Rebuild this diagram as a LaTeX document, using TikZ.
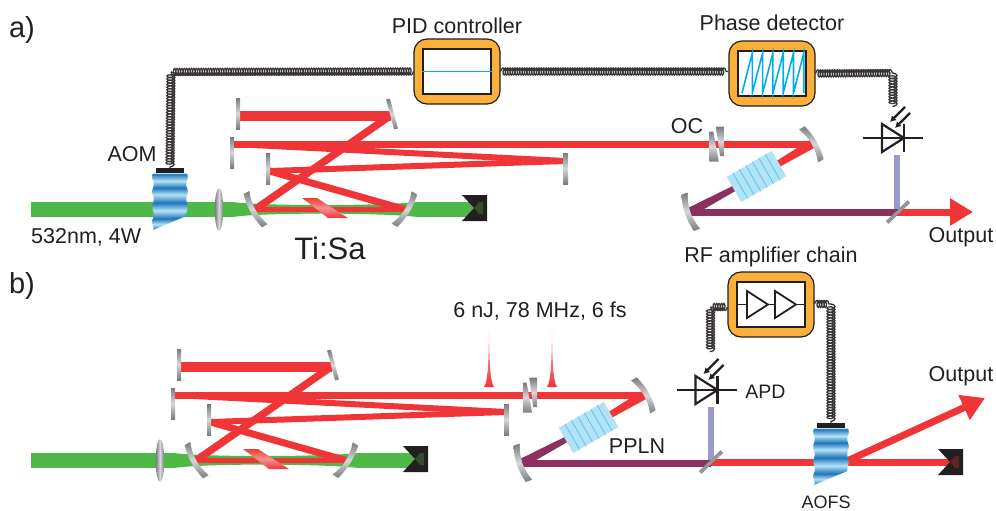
\documentclass[tikz,border=0pt]{standalone}
\usepackage{fontspec}
\setmainfont{Liberation Sans}
\usetikzlibrary{arrows.meta,positioning,calc,shapes.geometric,decorations.pathmorphing}

\definecolor{beamred}{HTML}{EF3538}
\definecolor{beamgreen}{HTML}{50B848}
\definecolor{beampurple}{HTML}{8C3060}
\definecolor{probeblue}{HTML}{9A9ACA}
\definecolor{boxorange}{HTML}{FBB03B}
\definecolor{inkblack}{HTML}{231F20}
\definecolor{mirrordark}{HTML}{7A7B7E}
\definecolor{mirrorlight}{HTML}{D6D7D9}
\definecolor{xtalblue}{HTML}{B2E2F4}
\definecolor{lineblue}{HTML}{00AEEF}
\definecolor{aomdark}{HTML}{1C75BC}
\definecolor{aomlight}{HTML}{B5E2F3}

\pgfdeclareverticalshading{aomstripes}{100bp}{color(0bp)=(aomdark); color(25bp)=(aomdark); color(30bp)=(aomlight); color(35bp)=(aomdark); color(42bp)=(aomlight); color(49bp)=(aomdark); color(56bp)=(aomlight); color(62bp)=(aomdark); color(68bp)=(aomlight); color(74bp)=(aomdark); color(75bp)=(aomlight); color(100bp)=(aomlight)}

\tikzset{
  curvedmirror/.pic={
    \shade[mirrorshade] (4,-19) .. controls (-1,-6) and (-1,6) .. (4,19) -- (-2.5,19) .. controls (-6,6) and (-6,-6) .. (-2.5,-19) -- cycle;
  },
  beamdump/.pic={
    \fill[inkblack] (-12,-13) -- (13,-13) -- (13,13) -- (-12,13) -- (0,0) -- cycle;
    \fill[#1] (0,0) -- (5,-6) -- (9,-6) -- (9,6) -- (5,6) -- cycle;
  },
  aomcell/.pic={
    \shade[shading=aomstripes] (0,0) -- (34,0) -- plot[domain=0:43,samples=22] ({34+0.8*sin(\x*24)},\x) -- (0,57) -- plot[domain=57:0,samples=29] ({-0.8*sin(\x*24)},\x) -- cycle;
    \node[aombar] (-bar) at (17,-2.5) {};
  },
  photodiode/.pic={
    \draw[diodeline] (0,-14) -- (0,14) -- (22,0) -- cycle;
    \draw[diodeline] (22,-14) -- (22,14);
    \draw[diodeline] (-19,0) -- (41,0);
    \draw[lightarr] (23,-31) -- (8,-16);
    \draw[lightarr] (28,-25) -- (13,-10);
    \coordinate (-in) at (15,17);
  },
  ocwedges/.pic={
    \shade[mirrorshade] (-6.5,-12.3) -- (-2.7,-12.3) -- (2.8,17.7) -- (-6.5,17.7) -- cycle;
    \shade[mirrorshade] (0,-17.3) -- (7.8,-17.3) -- (7.8,12) -- (4,12) -- cycle;
  },
  pulse/.pic={
    \shade[top color=beamred!25, bottom color=beamred] (-5,0) .. controls (-1,-6) and (-0.5,-25) .. (0,-57) .. controls (0.5,-25) and (1,-6) .. (5,0) -- cycle;
  },
  % folded resonator with its pump, drawn in the coordinates of panel a
  cavity/.pic={
    \coordinate (-m1) at (239,115.5);
    \coordinate (-fold) at (390.5,115.5);
    \coordinate (-ml) at (255,209.5);
    \coordinate (-mr) at (405,209.5);
    \coordinate (-m3) at (269.5,171);
    \coordinate (-end) at (565,161);
    \coordinate (-m2) at (233.5,144);
    \coordinate (-dumpin) at (474,208);
    \draw[pump] (#1,209.5) -- (233,209.5);
    \draw[pump] (418,209.5) -- (474,209.5);
    \fill[beamgreen] (233,202) .. controls (260,206) and (380,206) .. (418,202) -- (418,217) .. controls (380,212.5) and (260,212.5) .. (233,217) -- cycle;
    \draw[beam, line width=10pt] (-m1) -- (-fold);
    \draw[beam, line width=7.5pt] (-fold) -- (-ml);
    \draw[beam, line width=5pt] (-ml) -- (-mr);
    \draw[beam, line width=7pt] (-mr) -- (-m3);
    \draw[beam, line width=6pt] (-m3) -- (-end);
    \draw[beam, line width=6pt] (-m2) -- (-end);
    \shade[top color=beamred!85!orange, bottom color=beamred, middle color=beamred!55!white] (302,198) -- (317,198) -- (348,218) -- (328,218) -- cycle;
    \node[flatmirror] (-mirror1) at (238,113.5) {};
    \node[flatmirror, rotate=15] (-mirror2) at (392,114) {};
    \node[flatmirror] (-mirror3) at (232,152.5) {};
    \node[flatmirror] (-mirror4) at (268,169) {};
    \node[flatmirror, minimum width=5pt] (-mirror5) at (565.5,168.5) {};
    \pic[rotate=29] at (-ml) {curvedmirror};
    \pic[rotate=148] at (-mr) {curvedmirror};
    \node[lens] (-lens) at (219,209.5) {};
    \pic at (-dumpin) {beamdump=beamgreen!30!inkblack};
  },
  % crystal arm behind the output coupler, origin at the first mirror
  ringarm/.pic={
    \coordinate (-hit) at (0,0);
    \coordinate (-ml) at (-122,68);
    \fill[beamred] (2.3,3.9) -- (-2.3,-3.9) -- (-56.8,30.3) -- (-54.2,34.7) -- cycle;
    \fill[beampurple] (-54.6,34.3) -- (-56.4,30.7) -- (-124.1,64) -- (-119.9,72) -- cycle;
    \node[ppln, rotate=30] (-xtal) at (-55.5,32.5) {};
    \foreach \k in {1,...,6}
      \draw[lineblue!70, line width=0.7pt] ($(-xtal.south west)!\k/7!(-xtal.south east)$) -- ($(-xtal.north west)!\k/7!(-xtal.north east)$);
    \pic[rotate=210] at (-hit) {curvedmirror};
    \pic[rotate=19] at (-ml) {curvedmirror};
  }
}

\begin{document}
\begin{tikzpicture}[
  x=1pt, y=-1pt,
  txt/.style={font=\fontsize{21.5}{24}\selectfont, text=inkblack, inner sep=0pt},
  panel/.style={font=\fontsize{29}{32}\selectfont, text=inkblack, inner sep=0pt},
  beam/.style={draw=beamred},
  pump/.style={draw=beamgreen, line width=15pt},
  purplebeam/.style={draw=beampurple, line width=7pt},
  probe/.style={draw=probeblue, line width=6pt},
  outarr/.style={draw=beamred, line width=7pt, -{Triangle[length=23pt,width=26pt]}},
  mirrorshade/.style={top color=mirrordark, bottom color=mirrordark, middle color=mirrorlight},
  flatmirror/.style={rectangle, inner sep=0pt, minimum width=4pt, minimum height=31pt, mirrorshade},
  lens/.style={ellipse, inner sep=0pt, minimum width=8.5pt, minimum height=43pt, left color=mirrordark, right color=mirrordark, middle color=mirrorlight},
  dichroic/.style={rectangle, inner sep=0pt, minimum width=30pt, minimum height=3.5pt, fill=mirrordark!80},
  ppln/.style={rectangle, inner sep=0pt, minimum width=52pt, minimum height=29pt, fill=xtalblue},
  elbox/.style={draw=inkblack, line width=1.2pt, rounded corners=13pt, fill=boxorange, minimum width=86pt, minimum height=65pt, inner sep=0pt},
  screen/.style={draw=inkblack, line width=1.5pt, fill=white, minimum width=68pt, minimum height=45pt, inner sep=0pt},
  trace/.style={draw=lineblue, line width=1.6pt},
  wire/.style={draw=inkblack!90, line width=1.3pt, decorate, decoration={coil, segment length=2.4pt, amplitude=3.5pt}},
  wiredown/.style={wire, decoration={coil, segment length=2.8pt, amplitude=4pt}},
  aombar/.style={rectangle, inner sep=0pt, fill=inkblack, minimum width=28pt, minimum height=5pt},
  diodeline/.style={draw=inkblack, line width=2.2pt, line join=miter},
  ampline/.style={draw=inkblack, line width=1.8pt},
  lightarr/.style={draw=inkblack, line width=2.2pt, -{Latex[length=6pt,width=7pt]}}
]
\useasboundingbox (0,0) rectangle (996,511);

% panel a
\node[panel] (labelA) at (22,30) {a)};
\coordinate (outA) at (812,144);
\pic (a) at (0,0) {cavity=31};
\draw[beam, line width=7pt] (a-m2) -- (outA);
\pic (ocA) at (716,144) {ocwedges};
\pic (ringA) at (outA) {ringarm};

\node[dichroic, rotate=44] (dichA) at (898,212) {};
\pic (pdA) at (882,138) {photodiode};
\draw[probe] (pdA-in) -- (pdA-in |- dichA);
\draw[outarr] (dichA.center) -- (973,212);
\draw[purplebeam] (ringA-ml) -- (ringA-ml -| dichA);
\node[dichroic, rotate=44] (dichA) at (898,212) {};
\pic[rotate=19] at (ringA-ml) {curvedmirror};

\pic (aomA) at (153,173) {aomcell};

\node[elbox] (pid) at (457,71.5) {};
\node[screen] (pidscreen) at (pid) {};
\draw[trace] (pidscreen.west) -- (pidscreen.east);
\node[elbox] (phase) at (772,73.5) {};
\node[screen] (phasescreen) at (phase) {};
\draw[trace] (742,93) \foreach \t in {1,...,6} { -- ++(10.3,-40) -- ++(0,40) };

\coordinate (wireA) at (171,72);
\coordinate (wireB) at (893,73);
\coordinate (pdAtop) at (893,107);
\draw[wire] (pid.west) -- (wireA);
\draw[wiredown] (wireA) -- (aomA-bar.north);
\draw[wire] (pid.east) -- (pid.east -| phase.west);
\draw[wire] (phase.east) -- (wireB);
\draw[wiredown] (wireB) -- (pdAtop);

\node[txt, above=4pt of pid] (pidlabel) {PID controller};
\node[txt, above=9pt of phase] (phaselabel) {Phase detector};
\node[txt] (aomlabel) at (132,154) {AOM};
\node[txt, anchor=west] (pumplabel) at (31,237) {532nm, 4W};
\node[font=\fontsize{31}{34}\selectfont, text=inkblack, inner sep=0pt] (tisa) at (330,248) {Ti:Sa};
\node[txt] (oclabel) at (687,126) {OC};
\node[txt] (outlabelA) at (961,237) {Output};

% panel b
\node[panel] (labelB) at (22,286) {b)};
\coordinate (outB) at (644,395);
\pic (b) at (-59,251) {cavity=90};
\draw[beam, line width=7pt] (b-m2) -- (outB);
\pic (ocB) at (529.3,395) {ocwedges};
\pic at (489,387) {pulse};
\pic at (552,387) {pulse};
\pic (ringB) at (outB) {ringarm};

\node[dichroic, rotate=44] (dichB) at (711,462) {};
\pic (pdB) at (695.5,390) {photodiode};
\draw[probe] (pdB-in) -- (pdB-in |- dichB);
\coordinate (dumpB) at (950,462);
\coordinate (aofsout) at (847,461);
\coordinate (outtip) at (985,398);
\draw[beam, line width=7pt] (dichB.center) -- (dumpB);
\draw[outarr] (aofsout) -- (outtip);
\pic at (dumpB) {beamdump=beamred!30!inkblack};
\draw[purplebeam] (ringB-ml) -- (ringB-ml -| dichB);
\node[dichroic, rotate=44] (dichB) at (711,462) {};
\pic[rotate=19] at (ringB-ml) {curvedmirror};

\pic (aofs) at (814,428) {aomcell};

\node[elbox] (rf) at (771,304.5) {};
\node[screen] (rfscreen) at (rf) {};
\foreach \x in {747,775}
  \draw[ampline] (\x,291) -- (\x,318) -- (\x+21,304.5) -- cycle;
\draw[ampline] (rfscreen.west) -- (747,304.5);
\draw[ampline] (768,304.5) -- (775,304.5);
\draw[ampline] (796,304.5) -- (rfscreen.east);

\coordinate (wireC) at (710.5,307);
\coordinate (pdBtop) at (710.5,352);
\coordinate (wireD) at (831,304);
\draw[wire] (rf.west |- wireC) -- (wireC);
\draw[wiredown] (wireC) -- (pdBtop);
\draw[wire] (rf.east |- wireD) -- (wireD);
\draw[wiredown] (wireD) -- (aofs-bar.north);

\node[txt, above=4pt of rf] (rflabel) {RF amplifier chain};
\node[txt] (pulselabel) at (540,311) {6 nJ, 78 MHz, 6 fs};
\node[font=\fontsize{19.5}{22}\selectfont, text=inkblack, inner sep=0pt] (apdlabel) at (765.5,392) {APD};
\node[txt] (ppln label) at (637,446) {PPLN};
\node[font=\fontsize{18}{20}\selectfont, text=inkblack, inner sep=0pt] (aofslabel) at (826,502) {AOFS};
\node[txt] (outlabelB) at (961,376) {Output};

\end{tikzpicture}
\end{document}
